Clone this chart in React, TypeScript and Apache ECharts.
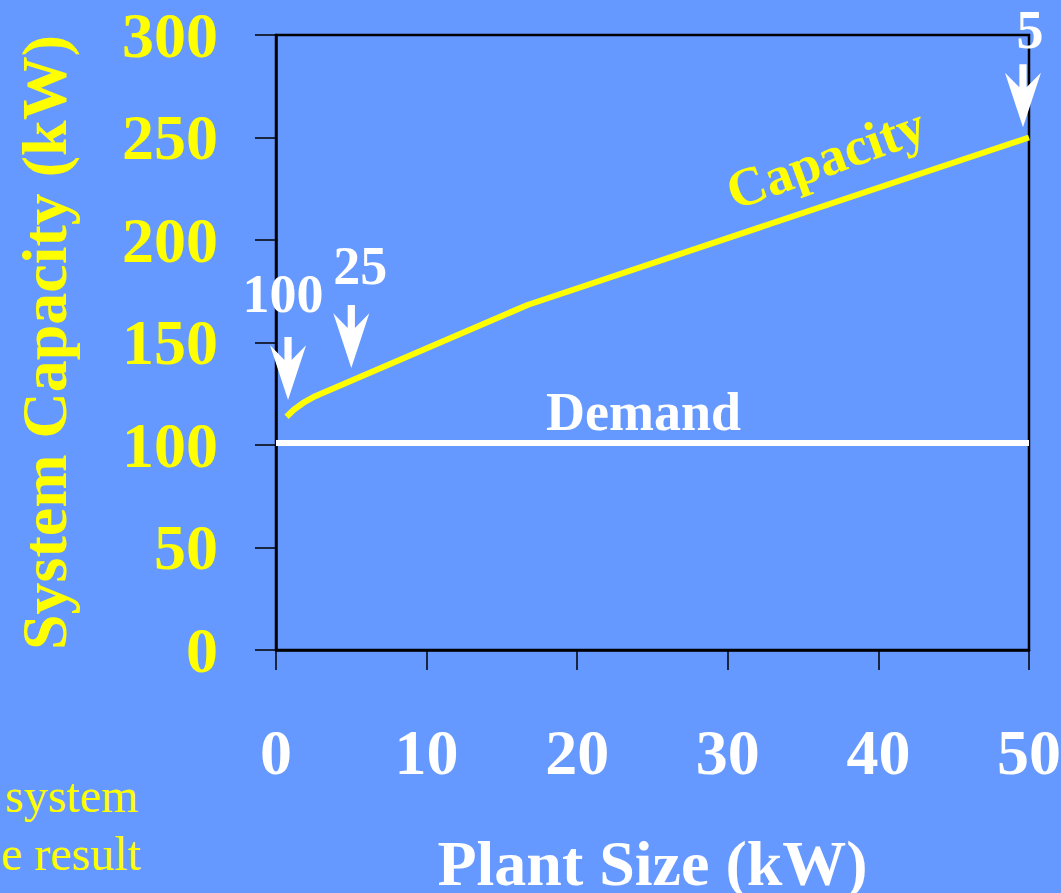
import React, { useEffect, useRef } from "react";
import * as echarts from "echarts";

const capacityX = [0.7, 1.2, 1.8, 2.6, 16.7, 50];
const capacityY = [113.8, 117.3, 120.5, 123.8, 168.3, 250];
const demandX = [0, 50];
const demandY = [101, 101];
const arrowX = [0.8, 5, 49.6];
const arrowY = [122, 137.6, 255];
const arrowLabels = ["100", "25", "5"];
const sideNotes = ["system", "e result", "probability"];

const SERIF = "'Liberation Serif', 'Times New Roman', serif";
const BG = "#6699ff";
const YELLOW = "#ffff00";
const ARROW = "path://M16,0 L24,0 L24,22 L40,8 L20,60 L0,8 L16,22 Z";

export default function App() {
  const ref = useRef<HTMLDivElement>(null);
  useEffect(() => {
    if (!ref.current) return;
    const chart = echarts.init(ref.current, null, { renderer: "svg" });
    const arrowLabelOffsets = [[-5, 0], [9, 0], [7, 0]];
    const arrowLabelDist = [16, 12, 14];
    const arrowLabelLH = [undefined, undefined, 40];
    chart.setOption({
      animation: false,
      backgroundColor: BG,
      textStyle: { fontFamily: SERIF },
      grid: {
        left: 276,
        right: 32,
        top: 35,
        bottom: 243,
        outerBoundsMode: "none",
        containLabel: false,
        show: true,
        borderColor: "#000",
        borderWidth: 2.5,
        backgroundColor: "transparent",
      },
      xAxis: {
        type: "value",
        min: 0,
        max: 50,
        interval: 10,
        name: "Plant Size (kW)",
        nameLocation: "middle",
        nameGap: 190,
        nameTextStyle: { color: "#fff", fontSize: 64, lineHeight: 46, fontWeight: "bold", fontFamily: SERIF },
        axisLine: { show: true, lineStyle: { color: "#000", width: 2.5 } },
        axisTick: { show: true, inside: false, length: 20, lineStyle: { color: "#000", width: 1.5 } },
        axisLabel: { color: "#fff", fontSize: 64, fontWeight: "bold", margin: 70, fontFamily: SERIF },
        splitLine: { show: false },
      },
      yAxis: {
        type: "value",
        min: 0,
        max: 300,
        interval: 50,
        name: "System Capacity (kW)",
        nameLocation: "middle",
        nameGap: 200,
        nameRotate: 90,
        nameTextStyle: { color: YELLOW, fontSize: 64, fontWeight: "bold", fontFamily: SERIF },
        axisLine: { show: true, lineStyle: { color: "#000", width: 2.5 } },
        axisTick: { show: true, inside: false, length: 21, lineStyle: { color: "#000", width: 1.5 } },
        axisLabel: { color: YELLOW, fontSize: 64, fontWeight: "bold", margin: 58, fontFamily: SERIF, padding: [16, 0, 0, 0] },
        splitLine: { show: false },
      },
      series: [
        {
          name: "Demand",
          type: "line",
          showSymbol: false,
          data: demandX.map((x, i) => [x, demandY[i]]),
          lineStyle: { color: "#fff", width: 6 },
          markPoint: {
            symbol: "circle",
            symbolSize: 0,
            data: [
              {
                coord: [24.4, 116],
                label: {
                  show: true,
                  position: "inside",
                  formatter: "Demand",
                  color: "#fff",
                  fontSize: 54,
                  fontWeight: "bold",
                  fontFamily: SERIF,
                },
              },
            ],
          },
        },
        {
          name: "Capacity",
          type: "line",
          showSymbol: false,
          data: capacityX.map((x, i) => [x, capacityY[i]]),
          lineStyle: { color: YELLOW, width: 6, join: "round", cap: "butt" },
          markPoint: {
            data: [
              ...arrowX.map((x, i) => ({
                coord: [x, arrowY[i]],
                symbol: ARROW,
                symbolSize: [36, 63],
                symbolOffset: [0, "-50%"],
                itemStyle: { color: "#fff" },
                label: {
                  show: true,
                  position: "top",
                  distance: arrowLabelDist[i],
                  offset: arrowLabelOffsets[i],
                  formatter: arrowLabels[i],
                  color: "#fff",
                  fontSize: 54,
                  lineHeight: arrowLabelLH[i],
                  fontWeight: "bold",
                  fontFamily: SERIF,
                },
              })),
              {
                coord: [36.5, 240],
                symbol: "circle",
                symbolSize: 0,
                label: {
                  show: true,
                  position: "inside",
                  formatter: "Capacity",
                  rotate: 20,
                  color: YELLOW,
                  fontSize: 54,
                  fontWeight: "bold",
                  fontFamily: SERIF,
                },
              },
            ],
          },
        },
      ],
      graphic: sideNotes.map((t, i) => ({
        type: "text",
        x: [5, 1, 16][i],
        y: 819 + i * 58,
        style: {
          text: t,
          fill: YELLOW,
          fontSize: 48,
          fontFamily: SERIF,
          verticalAlign: "bottom",
        },
      })),
    });
    return () => chart.dispose();
  }, []);
  return (
    <div
      ref={ref}
      style={{ position: "fixed", left: 0, top: 0, width: 1061, height: 893 }}
    />
  );
}
